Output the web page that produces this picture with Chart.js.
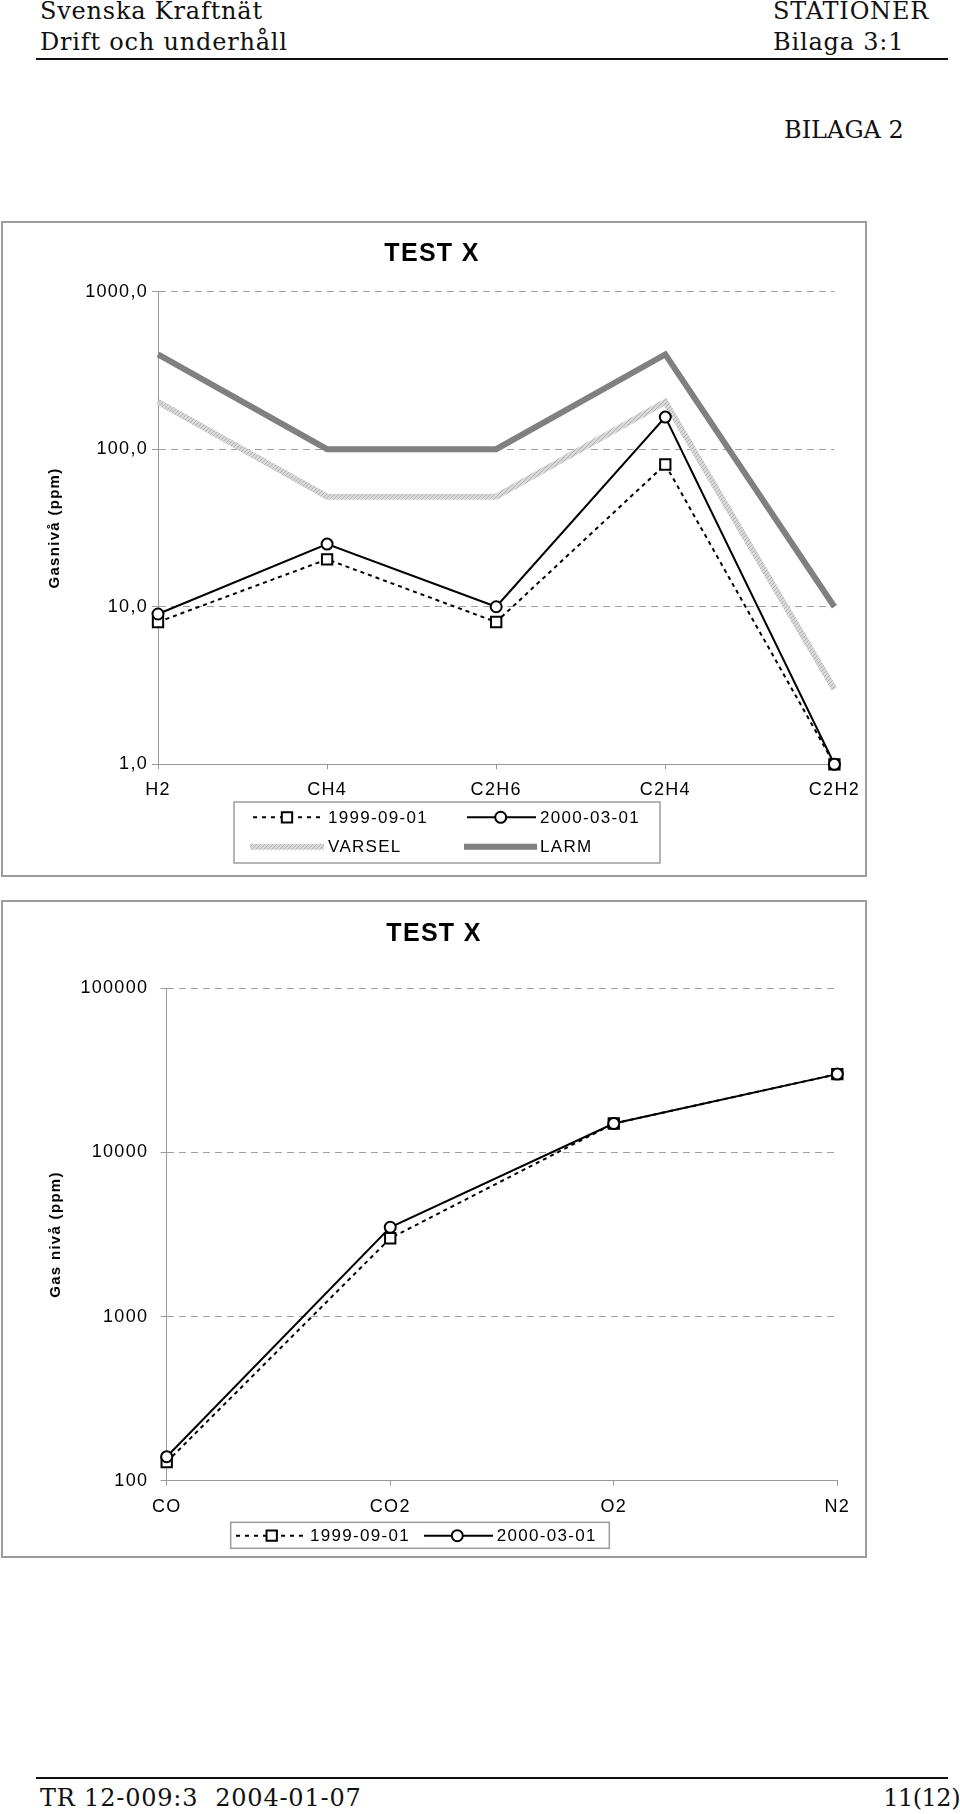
<!DOCTYPE html>
<html>
<head>
<meta charset="utf-8">
<script src="https://cdn.jsdelivr.net/npm/chart.js@4/dist/chart.umd.min.js"></script>
<style>
html,body{margin:0;padding:0;background:#fff;}
body{width:960px;height:1814px;position:relative;overflow:hidden;}
.serif{position:absolute;font-family:'DejaVu Serif',serif;font-size:24px;line-height:24px;color:#111;white-space:pre;letter-spacing:0.8px;}
.rule{position:absolute;left:36px;width:912px;height:2px;background:#111;}
.box{position:absolute;border:2px solid #9c9c9c;box-sizing:border-box;}
canvas{position:absolute;left:0;}
</style>
</head>
<body>
<div class="serif" style="left:40px;top:-1px">Svenska Kraftnät</div>
<div class="serif" style="left:40px;top:30px">Drift och underhåll</div>
<div class="serif" style="left:773px;top:-1px">STATIONER</div>
<div class="serif" style="left:773px;top:30px">Bilaga 3:1</div>
<div class="rule" style="top:58px"></div>
<div class="serif" style="left:784px;top:118px;letter-spacing:0">BILAGA 2</div>

<div class="box" style="left:1px;top:221px;width:866px;height:656px"></div>
<canvas id="c1" width="870" height="656" style="top:221px"></canvas>

<div class="box" style="left:1px;top:900px;width:866px;height:658px"></div>
<canvas id="c2" width="870" height="658" style="top:900px"></canvas>

<div class="rule" style="top:1777px"></div>
<div class="serif" style="left:40px;top:1786px">TR 12-009:3  2004-01-07</div>
<div class="serif" style="right:0px;top:1786px;letter-spacing:-0.5px">11(12)</div>

<script>
// ---------- DATA ----------
const gasLabels1 = ['H2', 'CH4', 'C2H6', 'C2H4', 'C2H2'];
const series1999a = [8, 20, 8, 80, 1];
const series2000a = [9, 25, 10, 160, 1];
const varselA = [200, 50, 50, 200, 3];
const larmA = [400, 100, 100, 400, 10];
const yTicksA = [1, 10, 100, 1000];
const yTickLabelsA = ['1,0', '10,0', '100,0', '1000,0'];

const gasLabels2 = ['CO', 'CO2', 'O2', 'N2'];
const series1999b = [130, 3000, 15000, 30000];
const series2000b = [140, 3500, 15000, 30000];
const yTicksB = [100, 1000, 10000, 100000];
const yTickLabelsB = ['100', '1000', '10000', '100000'];

const seriesNames = ['1999-09-01', '2000-03-01', 'VARSEL', 'LARM'];
const chartTitle = 'TEST X';
const yTitleA = 'Gasnivå (ppm)';
const yTitleB = 'Gas nivå (ppm)';

// ---------- STYLE ----------
const SANS = "'Liberation Sans', Arial, sans-serif";
Chart.defaults.font.family = SANS;
Chart.defaults.color = '#000';

const spacingPlugin = {
  id: 'spacing',
  beforeLayout(chart) { chart.ctx.letterSpacing = '1.3px'; },
  beforeDraw(chart) { chart.ctx.letterSpacing = '1.3px'; }
};

function marker(ctx, style, r, x, y) {
  ctx.beginPath();
  if (style === 'rect') {
    const s = r * Math.SQRT1_2;
    ctx.rect(x - s, y - s, 2 * s, 2 * s);
  } else {
    ctx.arc(x, y, r, 0, Math.PI * 2);
  }
  ctx.fill();
  ctx.stroke();
}

const boxLegend = {
  id: 'boxLegend',
  afterDraw(chart, args, opts) {
    const ctx = chart.ctx;
    const b = opts.box;
    ctx.save();
    ctx.letterSpacing = '1.3px';
    ctx.setLineDash([]);
    ctx.strokeStyle = '#9c9c9c';
    ctx.lineWidth = 1.5;
    ctx.strokeRect(b.x, b.y, b.w, b.h);
    opts.items.forEach(it => {
      const ds = chart.data.datasets[it.index];
      ctx.save();
      ctx.strokeStyle = ds.borderColor;
      ctx.lineWidth = ds.borderWidth;
      ctx.lineCap = 'butt';
      ctx.setLineDash(it.dash || ds.borderDash || []);
      ctx.beginPath();
      ctx.moveTo(it.x0, it.y);
      ctx.lineTo(it.x1, it.y);
      ctx.stroke();
      if (ds.pointRadius > 0) {
        ctx.setLineDash([]);
        ctx.fillStyle = ds.pointBackgroundColor;
        ctx.strokeStyle = ds.pointBorderColor;
        ctx.lineWidth = ds.pointBorderWidth;
        marker(ctx, ds.pointStyle, ds.pointRadius, it.xm, it.y);
      }
      ctx.restore();
      ctx.fillStyle = '#000';
      ctx.font = '17px ' + SANS;
      ctx.textBaseline = 'middle';
      ctx.textAlign = 'left';
      ctx.fillText(ds.label, it.xt, it.y + 1);
    });
    ctx.restore();
  }
};

function hatchPattern(ctx) {
  const c = document.createElement('canvas');
  c.width = 4; c.height = 4;
  const g = c.getContext('2d');
  g.fillStyle = '#dadada';
  g.fillRect(0, 0, 4, 4);
  g.fillStyle = '#b0b0b0';
  for (let i = 0; i < 4; i++) g.fillRect(i, 3 - i, 1, 1);
  return ctx.createPattern(c, 'repeat');
}

function lineDs(label, data, kind) {
  if (kind === 'square') {
    return {label, data, borderColor: '#000', borderWidth: 2, borderDash: [4, 4],
      pointStyle: 'rect', pointRadius: 7.3, pointBackgroundColor: '#fff',
      pointBorderColor: '#000', pointBorderWidth: 2, order: 1, clip: false, tension: 0};
  }
  return {label, data, borderColor: '#000', borderWidth: 2,
    pointStyle: 'circle', pointRadius: 5.5, pointBackgroundColor: '#fff',
    pointBorderColor: '#000', pointBorderWidth: 2, order: 0, clip: false, tension: 0};
}

function makeOptions(cfg) {
  return {
    responsive: false,
    animation: false,
    events: [],
    layout: {padding: {left: cfg.padLeft, right: cfg.padRight, top: 0, bottom: 0}},
    plugins: {
      legend: {display: false},
      tooltip: {enabled: false},
      title: {display: true, text: chartTitle, color: '#000',
        font: {family: SANS, size: 25, weight: 'bold'},
        padding: {top: cfg.titleTop, bottom: cfg.titleBottom}},
      boxLegend: cfg.legend
    },
    scales: {
      x: {
        grid: {drawOnChartArea: false, drawTicks: true, tickLength: 5, tickColor: '#999'},
        border: {color: '#999', width: 1},
        ticks: {color: '#000', font: {family: SANS, size: 18}, padding: cfg.xPad,
          maxRotation: 0, autoSkip: false},
        afterFit(s) { s.height = cfg.xHeight; }
      },
      y: {
        type: 'logarithmic',
        min: cfg.yTicks[0],
        max: cfg.yTicks[cfg.yTicks.length - 1],
        grid: {color: '#a0a0a0', lineWidth: 1, tickLength: 6, tickColor: '#999', tickBorderDash: []},
        border: {color: '#999', width: 1, dash: [7, 5]},
        ticks: {color: '#000', font: {family: SANS, size: 18}, padding: cfg.yPad,
          callback: (v) => { const i = cfg.yTicks.indexOf(v); return i >= 0 ? cfg.yLabels[i] : ''; }},
        afterBuildTicks(s) { s.ticks = cfg.yTicks.map(v => ({value: v})); },
        title: {display: true, text: cfg.yTitle, color: '#000',
          font: {family: SANS, size: 15, weight: 'bold'},
          padding: {top: cfg.yTitlePad, bottom: 0}},
        afterFit(s) { s.width = cfg.yWidth; }
      }
    }
  };
}

// ---------- CHART 1 ----------
const ctx1 = document.getElementById('c1').getContext('2d');
new Chart(ctx1, {
  type: 'line',
  data: {
    labels: gasLabels1,
    datasets: [
      lineDs(seriesNames[0], series1999a, 'square'),
      lineDs(seriesNames[1], series2000a, 'circle'),
      {label: seriesNames[2], data: varselA, borderColor: hatchPattern(ctx1), borderWidth: 6,
        pointRadius: 0, order: 2, clip: false, tension: 0, borderJoinStyle: 'miter'},
      {label: seriesNames[3], data: larmA, borderColor: '#808080', borderWidth: 6,
        pointRadius: 0, order: 3, clip: false, tension: 0, borderJoinStyle: 'miter'}
    ]
  },
  options: makeOptions({
    padLeft: 28, padRight: 34, titleTop: 18.5, titleBottom: 22.2,
    xPad: 10, xHeight: 112.7, yPad: 4, yWidth: 130, yTitlePad: 18,
    yTicks: yTicksA, yLabels: yTickLabelsA, yTitle: yTitleA,
    legend: {
      box: {x: 234, y: 581, w: 426, h: 61},
      items: [
        {index: 0, x0: 253, x1: 325, xm: 287, xt: 328, y: 596.3, dash: [4, 5]},
        {index: 1, x0: 467, x1: 536, xm: 500.7, xt: 540, y: 596.3},
        {index: 2, x0: 250, x1: 324, xt: 328, y: 625.7},
        {index: 3, x0: 464, x1: 537, xt: 540, y: 625.7}
      ]
    }
  }),
  plugins: [spacingPlugin, boxLegend]
});

// ---------- CHART 2 ----------
const ctx2 = document.getElementById('c2').getContext('2d');
new Chart(ctx2, {
  type: 'line',
  data: {
    labels: gasLabels2,
    datasets: [
      lineDs(seriesNames[0], series1999b, 'square'),
      lineDs(seriesNames[1], series2000b, 'circle')
    ]
  },
  options: makeOptions({
    padLeft: 30.7, padRight: 32.7, titleTop: 19, titleBottom: 39.3,
    xPad: 10.3, xHeight: 77.3, yPad: 12.4, yWidth: 136, yTitlePad: 16.3,
    yTicks: yTicksB, yLabels: yTickLabelsB, yTitle: yTitleB,
    legend: {
      box: {x: 230.7, y: 622.3, w: 378.6, h: 26},
      items: [
        {index: 0, x0: 236, x1: 306.7, xm: 271.7, xt: 310, y: 635.7, dash: [4, 5]},
        {index: 1, x0: 424, x1: 493, xm: 457.3, xt: 496.7, y: 635.7}
      ]
    }
  }),
  plugins: [spacingPlugin, boxLegend]
});
</script>
</body>
</html>
